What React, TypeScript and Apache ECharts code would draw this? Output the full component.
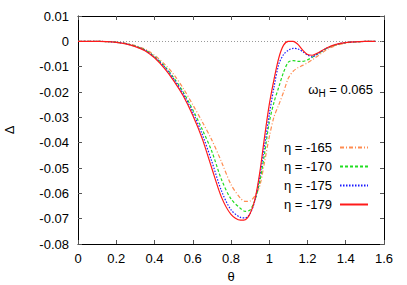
import React, { useEffect, useRef } from "react";
import * as echarts from "echarts";

const theta = [0, 0.05, 0.1, 0.15, 0.2, 0.25, 0.3, 0.35, 0.4, 0.45, 0.5, 0.55, 0.6, 0.65, 0.7, 0.75, 0.8, 0.85, 0.875, 0.9, 0.925, 0.95, 0.975, 1.0, 1.025, 1.05, 1.075, 1.1, 1.125, 1.15, 1.175, 1.2, 1.225, 1.25, 1.3, 1.35, 1.4, 1.45, 1.5, 1.555];

const eta165 = [0, 0, -0.00002, -0.0001, -0.0003, -0.0008, -0.0017, -0.0031, -0.0055, -0.0088, -0.013, -0.0185, -0.025, -0.0318, -0.039, -0.0475, -0.0565, -0.062, -0.0632, -0.063, -0.061, -0.0572, -0.0478, -0.0378, -0.0298, -0.025, -0.02, -0.0145, -0.0118, -0.0104, -0.0095, -0.0085, -0.0073, -0.006, -0.0033, -0.0016, -0.0007, -0.0002, -0.00005, 0];
const eta170 = [0, 0, -0.00003, -0.0001, -0.0003, -0.0009, -0.0019, -0.0034, -0.006, -0.0096, -0.0143, -0.02, -0.027, -0.0348, -0.0435, -0.0545, -0.0622, -0.066, -0.0671, -0.0665, -0.0627, -0.0555, -0.0445, -0.032, -0.024, -0.018, -0.0122, -0.0082, -0.0076, -0.0079, -0.0079, -0.0073, -0.0063, -0.0051, -0.0028, -0.0013, -0.0005, -0.0002, -0.00005, 0];
const eta175 = [0, 0, -0.00003, -0.0001, -0.0004, -0.0009, -0.002, -0.0035, -0.0062, -0.0099, -0.0148, -0.0207, -0.028, -0.0368, -0.0475, -0.059, -0.0665, -0.0695, -0.0697, -0.068, -0.0628, -0.0535, -0.0415, -0.029, -0.018, -0.009, -0.0052, -0.0035, -0.0028, -0.003, -0.0041, -0.0054, -0.0061, -0.0051, -0.0027, -0.0012, -0.0005, -0.0002, -0.00005, 0];
const eta179 = [0, 0, -0.00003, -0.0001, -0.0004, -0.001, -0.0021, -0.0037, -0.0065, -0.0105, -0.0155, -0.0215, -0.0292, -0.0385, -0.0502, -0.0615, -0.0683, -0.0706, -0.0704, -0.068, -0.0625, -0.052, -0.038, -0.025, -0.015, -0.0065, -0.0015, 0, 0, -0.0012, -0.0035, -0.0052, -0.0055, -0.0047, -0.0026, -0.0012, -0.0005, -0.0002, -0.00005, 0];

const seriesNames = ["η = -165", "η = -170", "η = -175", "η = -179"];
const seriesData = [eta165, eta170, eta175, eta179];
const seriesColors = ["#ff8c50", "#22dd22", "#1a1aff", "#ff1a1a"];
const seriesDash: any[] = [[4, 2, 1, 2], [3, 2], [1.5, 1.5], "solid"];

const FONT = "Liberation Sans";

export default function App() {
  const ref = useRef<HTMLDivElement>(null);
  useEffect(() => {
    if (!ref.current) return;
    const chart = echarts.init(ref.current, undefined, { renderer: "svg" });
    const axisCommon = {
      axisLine: { show: true, onZero: false, lineStyle: { color: "#000", width: 1 } },
      axisTick: { show: true, inside: true, length: 4, lineStyle: { color: "#555" } },
      splitLine: { show: false },
    };
    const series: any[] = seriesNames.map((name, i) => ({
      name,
      type: "line",
      xAxisIndex: 0,
      yAxisIndex: 0,
      data: theta.map((t, j) => [t, seriesData[i][j]]),
      symbol: "none",
      smooth: 0.3,
      lineStyle: { color: seriesColors[i], width: 1.2, type: seriesDash[i] },
      itemStyle: { color: seriesColors[i] },
      z: 3 + i,
      markLine:
        i === 0
          ? {
              silent: true,
              symbol: "none",
              label: { show: false },
              lineStyle: { color: "#999", type: [1, 2], width: 1 },
              data: [{ yAxis: 0 }],
            }
          : undefined,
    }));
    chart.setOption({
      animation: false,
      grid: { left: 78, right: 23, top: 16, bottom: 41, containLabel: false, outerBoundsMode: "none" },
      xAxis: [
        {
          type: "value",
          min: 0,
          max: 1.6,
          interval: 0.2,
          position: "bottom",
          ...axisCommon,
          axisLabel: {
            color: "#000",
            fontFamily: FONT,
            fontSize: 13,
            margin: 8,
            formatter: (v: number) => String(parseFloat(v.toFixed(1))),
          },
          name: "θ",
          nameLocation: "middle",
          nameGap: 26,
          nameTextStyle: { color: "#000", fontFamily: FONT, fontSize: 13 },
        },
        {
          type: "value",
          min: 0,
          max: 1.6,
          interval: 0.2,
          position: "top",
          ...axisCommon,
          axisLabel: { show: false },
        },
      ],
      yAxis: [
        {
          type: "value",
          min: -0.08,
          max: 0.01,
          interval: 0.01,
          position: "left",
          ...axisCommon,
          axisLabel: {
            color: "#000",
            fontFamily: FONT,
            fontSize: 13,
            margin: 9,
            formatter: (v: number) => String(parseFloat(v.toFixed(2))),
          },
          name: "Δ",
          nameLocation: "middle",
          nameGap: 62,
          nameRotate: 90,
          nameTextStyle: { color: "#000", fontFamily: FONT, fontSize: 13 },
        },
        {
          type: "value",
          min: -0.08,
          max: 0.01,
          interval: 0.01,
          position: "right",
          ...axisCommon,
          axisLabel: { show: false },
        },
      ],
      legend: {
        orient: "vertical",
        right: 33,
        top: 136,
        align: "right",
        itemWidth: 28,
        itemHeight: 14,
        itemGap: 6,
        itemStyle: { opacity: 0 },
        textStyle: { color: "#000", fontFamily: FONT, fontSize: 13, padding: [0, 3, 0, 0] },
        data: seriesNames,
      },
      graphic: [
        {
          type: "text",
          right: 34,
          top: 83,
          style: {
            text: "{w|ω}{sub|H}{w| = 0.065}",
            fill: "#000",
            rich: {
              w: { fontFamily: FONT, fontSize: 13, lineHeight: 18, verticalAlign: "middle" },
              sub: { fontFamily: FONT, fontSize: 10, lineHeight: 10, verticalAlign: "bottom" },
            },
          },
        },
      ],
      series,
    });
    return () => chart.dispose();
  }, []);
  return (
    <div
      ref={ref}
      style={{ position: "fixed", left: 0, top: 0, width: 407, height: 285, background: "#fff" }}
    />
  );
}
